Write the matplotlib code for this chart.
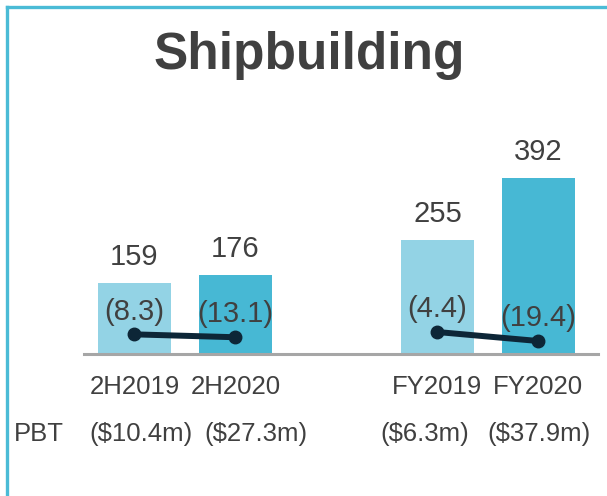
import matplotlib
matplotlib.use("Agg")
import matplotlib.pyplot as plt
from matplotlib.lines import Line2D

plt.rcParams['font.family'] = ['Liberation Sans', 'DejaVu Sans']

# data
periods = ["2H2019", "2H2020", "FY2019", "FY2020"]
revenue = [159, 176, 255, 392]
pbt_loss = [8.3, 13.1, 4.4, 19.4]
pbt_labels = ["($10.4m)", "($27.3m)", "($6.3m)", "($37.9m)"]

xpos = [0, 1, 3, 4]
bar_colors = ["#93D3E5", "#47B8D4", "#93D3E5", "#47B8D4"]
text_col = "#404040"

fig = plt.figure(figsize=(6.07, 4.96), dpi=100)
ax = fig.add_axes([84 / 607, 1 - 354 / 496, 514 / 607, 254 / 496])

ax.bar(xpos, revenue, width=0.72, color=bar_colors, zorder=2)
ax.set_xlim(-0.5, 4.59)
ax.set_ylim(0, 565.7)
for x, v in zip(xpos, revenue):
    ax.text(x, v + 57, str(v), ha="center", va="center", fontsize=21, color=text_col)

for s in ["top", "right", "left"]:
    ax.spines[s].set_visible(False)
ax.spines["bottom"].set_color("#A6A6A6")
ax.spines["bottom"].set_linewidth(2.2)
ax.set_yticks([])
ax.set_xticks(xpos)
ax.set_xticklabels(periods, fontsize=18.5, color=text_col)
ax.tick_params(axis="x", length=0, pad=15)

# loss line on secondary axis
ax2 = ax.twinx()
ax2.set_ylim(-41, 382)
ax2.axis("off")
loss_vals = [-v for v in pbt_loss]
for grp in [(0, 1), (2, 3)]:
    xs = [xpos[i] for i in grp]
    ys = [loss_vals[i] for i in grp]
    ax2.plot(xs, ys, color="#0D2637", lw=4.3, marker="o", ms=9, solid_capstyle="round", zorder=3)
for x, v in zip(xpos, pbt_loss):
    ax2.text(x, -v + 38, "(%.1f)" % v, ha="center", va="center", fontsize=21, color=text_col)

# PBT row
fig.text(39 / 607, 1 - 434 / 496, "PBT", ha="center", va="center", fontsize=18.5, color=text_col)
pbt_dx = [0.064, 0.2, -0.125, 0.005]
for x, lab, dx in zip(xpos, pbt_labels, pbt_dx):
    ax.text(x + dx, -0.315, lab, transform=ax.get_xaxis_transform(), ha="center", va="center",
            fontsize=18.5, color=text_col)

fig.text(309 / 607, 1 - 55 / 496, "Shipbuilding", ha="center", va="center", fontsize=37,
         fontweight="bold", color=text_col)

# frame lines
border = "#4BBBD6"
fig.add_artist(Line2D([7 / 607, 1], [1 - 7 / 496] * 2, transform=fig.transFigure, color=border, lw=2.4))
fig.add_artist(Line2D([7 / 607] * 2, [0, 1 - 7 / 496], transform=fig.transFigure, color=border, lw=2.4))

fig.savefig("out.png", dpi=100)
